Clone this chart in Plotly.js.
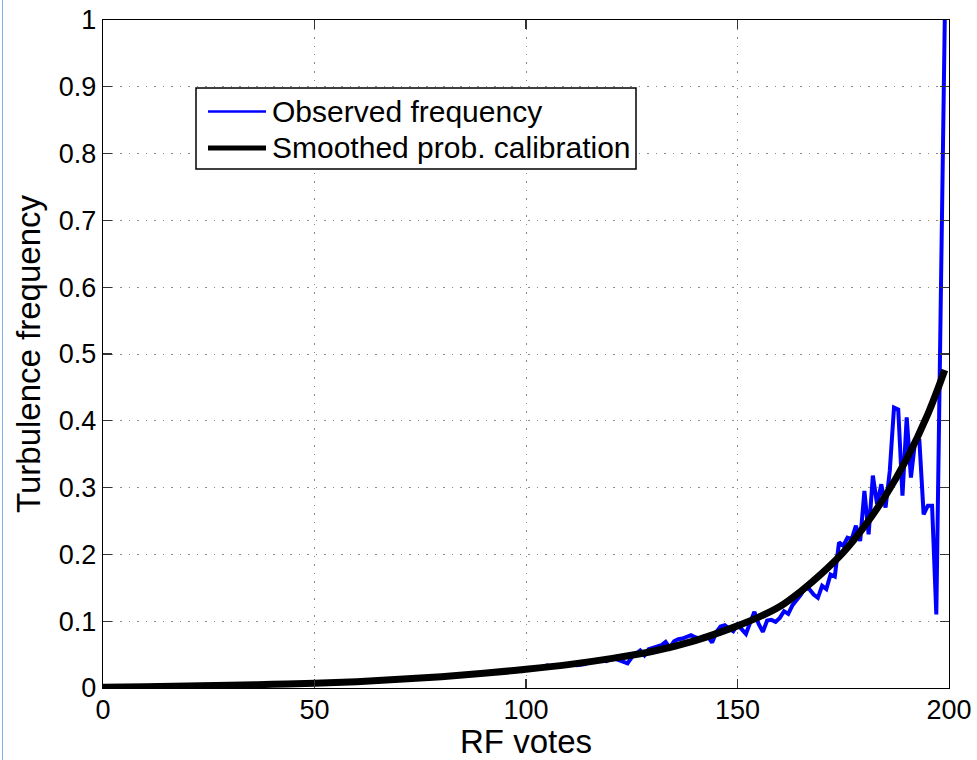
<!DOCTYPE html>
<html>
<head>
<meta charset="utf-8">
<script src="https://cdn.plot.ly/plotly-3.0.1.min.js"></script>
<style>
  html, body { margin: 0; padding: 0; background: #fff; }
  #wrap { position: relative; width: 977px; height: 760px; }
  #chart { width: 977px; height: 760px; }
  #edge { position: absolute; left: 2px; top: 0; width: 1px; height: 760px; background: #7db3e6; }
</style>
</head>
<body>
<div id="wrap">
  <div id="chart"></div>
  <div id="edge"></div>
</div>
<script>
// RF votes (0..199)
var votes = Array.from({length: 200}, function (_, i) { return i; });

// Observed turbulence frequency for each vote count
var observedFreq = [
  0.000,0.001,0.001,0.001,0.001,0.002,0.001,0.002,0.002,0.002,
  0.002,0.002,0.002,0.003,0.002,0.003,0.003,0.003,0.003,0.003,
  0.003,0.003,0.004,0.003,0.004,0.004,0.004,0.004,0.004,0.004,
  0.004,0.005,0.004,0.005,0.005,0.005,0.005,0.005,0.006,0.005,
  0.006,0.006,0.006,0.006,0.007,0.006,0.007,0.007,0.007,0.007,
  0.007,0.008,0.008,0.008,0.008,0.009,0.008,0.009,0.009,0.010,
  0.009,0.010,0.010,0.011,0.010,0.011,0.012,0.011,0.012,0.013,
  0.013,0.013,0.014,0.014,0.015,0.015,0.015,0.016,0.016,0.017,
  0.017,0.018,0.018,0.019,0.018,0.020,0.020,0.021,0.021,0.022,
  0.022,0.023,0.023,0.024,0.025,0.027,0.025,0.027,0.026,0.025,
  0.028,0.028,0.029,0.030,0.031,0.034,0.032,0.033,0.034,0.035,
  0.035,0.036,0.034,0.035,0.036,0.039,0.040,0.041,0.041,0.040,
  0.043,0.044,0.042,0.040,0.037,0.046,0.052,0.056,0.049,0.058,
  0.060,0.062,0.064,0.069,0.060,0.070,0.073,0.074,0.077,0.079,
  0.076,0.074,0.077,0.077,0.068,0.084,0.092,0.094,0.089,0.085,
  0.095,0.088,0.081,0.098,0.114,0.096,0.084,0.101,0.102,0.099,
  0.105,0.115,0.111,0.124,0.131,0.140,0.150,0.148,0.140,0.135,
  0.153,0.148,0.170,0.167,0.218,0.213,0.225,0.223,0.243,0.220,
  0.295,0.230,0.318,0.275,0.305,0.270,0.325,0.420,0.417,0.288,
  0.405,0.315,0.370,0.370,0.260,0.273,0.273,0.110,0.555,1.000
];

// Smoothed probability calibration curve (read at sample vote counts)
var smoothVotes = [0,10,20,30,40,50,60,70,80,90,100,110,120,130,140,150,155,160,165,170,175,180,185,190,195,199];
var smoothProb  = [0.001,0.002,0.003,0.004,0.0055,0.007,0.0095,0.013,0.017,0.022,0.028,0.035,0.044,0.055,0.071,0.093,0.106,0.122,0.145,0.172,0.203,0.242,0.288,0.343,0.410,0.476];

var xTicks = [0, 50, 100, 150, 200];
var yTicks = [0, 0.1, 0.2, 0.3, 0.4, 0.5, 0.6, 0.7, 0.8, 0.9, 1];
var yTickText = ['0', '0.1', '0.2', '0.3', '0.4', '0.5', '0.6', '0.7', '0.8', '0.9', '1'];

var seriesNames = ['Observed frequency', 'Smoothed prob. calibration'];
var seriesColors = ['#0000ff', '#000000'];
var seriesWidths = [4, 7];

var FONT = 'Liberation Sans, Arial, Helvetica, sans-serif';

var traces = [
  {
    x: votes, y: observedFreq, type: 'scatter', mode: 'lines',
    name: seriesNames[0], showlegend: false,
    line: {color: seriesColors[0], width: seriesWidths[0]}
  },
  {
    x: smoothVotes, y: smoothProb, type: 'scatter', mode: 'lines',
    name: seriesNames[1], showlegend: false,
    line: {color: seriesColors[1], width: seriesWidths[1], shape: 'spline', smoothing: 1}
  }
];

// Custom legend (MATLAB style box with long line samples), in paper coordinates
var L = 103, R = 949, T = 20, B = 688;
function px(x) { return (x - L) / (R - L); }
function py(y) { return (B - y) / (B - T); }
var legBox = {x0: 196, x1: 636, y0: 88, y1: 169};
var legRows = [111.5, 148];
var shapes = [
  {type: 'rect', xref: 'paper', yref: 'paper',
   x0: px(legBox.x0), x1: px(legBox.x1), y0: py(legBox.y1), y1: py(legBox.y0),
   fillcolor: '#fff', line: {color: '#000', width: 1.5}, layer: 'above'}
];
var annotations = [];
legRows.forEach(function (ry, i) {
  shapes.push({type: 'line', xref: 'paper', yref: 'paper',
    x0: px(208), x1: px(266), y0: py(ry), y1: py(ry),
    line: {color: seriesColors[i], width: i === 0 ? 2.5 : 5}, layer: 'above'});
  annotations.push({xref: 'paper', yref: 'paper', x: px(270), y: py(ry),
    xanchor: 'left', yanchor: 'middle', showarrow: false,
    text: seriesNames[i], font: {family: FONT, size: 30, color: '#000'}});
});

var axisCommon = {
  showline: true, linecolor: '#000', linewidth: 1.2, mirror: 'ticks',
  ticks: 'inside', ticklen: 9, tickwidth: 1.2, tickcolor: '#333',
  showgrid: true, gridcolor: '#8a8a8a', gridwidth: 1, griddash: '1.5px,7px',
  zeroline: false,
  tickfont: {family: FONT, size: 27, color: '#000'}
};

var layout = {
  width: 977, height: 760,
  margin: {l: 103, r: 28, t: 20, b: 72},
  paper_bgcolor: '#fff', plot_bgcolor: '#fff',
  showlegend: false,
  xaxis: Object.assign({}, axisCommon, {
    range: [0, 200], tickmode: 'array', tickvals: xTicks,
    ticklabelstandoff: -3,
    title: {text: 'RF votes', font: {family: FONT, size: 33, color: '#000'}, standoff: 2},
    automargin: false
  }),
  yaxis: Object.assign({}, axisCommon, {
    range: [0, 1], tickmode: 'array', tickvals: yTicks, ticktext: yTickText,
    title: {text: 'Turbulence frequency', font: {family: FONT, size: 33, color: '#000'}, standoff: 8},
    automargin: false
  }),
  shapes: shapes,
  annotations: annotations
};

Plotly.newPlot('chart', traces, layout, {displayModeBar: false, staticPlot: true});
</script>
</body>
</html>
